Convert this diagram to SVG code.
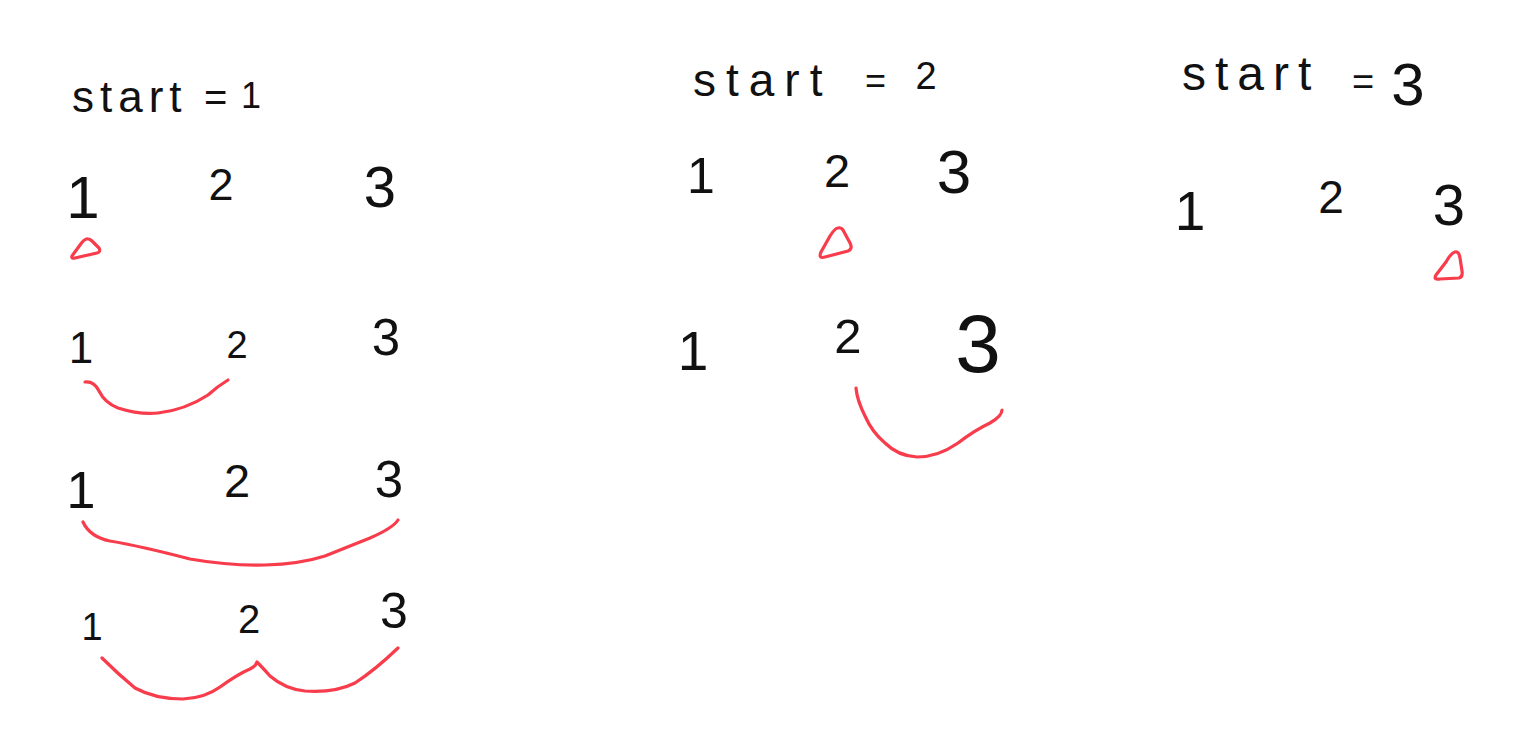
<svg xmlns="http://www.w3.org/2000/svg" width="1536" height="751" viewBox="0 0 1536 751">
<style>
  text { font-family: "Liberation Sans", "DejaVu Sans", sans-serif; fill: #111; }
  .d { text-anchor: middle; }
  .mark { fill: none; stroke: #f83c4c; stroke-width: 3.2; stroke-linecap: round; stroke-linejoin: round; }
</style>
<rect width="1536" height="751" fill="#ffffff"/>

<g id="panel-start-1">
  <text font-size="44"><tspan x="72" y="112" letter-spacing="6">start</tspan><tspan x="204" y="111" font-size="40">=</tspan><tspan x="241" y="108" font-size="36">1</tspan></text>
  <text class="d" x="83" y="218" font-size="60">1</text>
  <text class="d" x="221" y="200" font-size="45">2</text>
  <text class="d" x="380" y="207" font-size="58">3</text>
  <path class="mark" d="M88,239 Q85,238 80,245 L72,256 Q71,259 75,258 L97,253 Q101,252 99,248 L92,241 Q90,239 88,239 Z"/>

  <text class="d" x="81" y="363" font-size="44">1</text>
  <text class="d" x="237" y="358" font-size="38">2</text>
  <text class="d" x="386" y="355" font-size="51">3</text>
  <path class="mark" d="M85,382 Q94,381 99,391 Q105,403 118,408 Q140,415 158,413 Q185,410 208,395 Q218,386 228,380"/>

  <text class="d" x="81" y="508" font-size="52">1</text>
  <text class="d" x="237" y="497" font-size="47">2</text>
  <text class="d" x="389" y="497" font-size="51">3</text>
  <path class="mark" d="M83,522 Q90,537 110,541 Q140,546 190,559 Q230,566 265,565 Q300,564 325,556 Q350,546 370,538 Q393,528 398,520"/>

  <text class="d" x="92" y="640" font-size="38">1</text>
  <text class="d" x="249" y="633" font-size="40">2</text>
  <text class="d" x="394" y="628" font-size="50">3</text>
  <path class="mark" d="M102,658 Q118,674 135,688 Q155,699 183,699 Q205,698 220,687 Q238,674 250,669 Q256,666 257,662 Q262,667 270,676 Q285,689 305,691 Q335,693 355,683 Q375,670 398,648"/>
</g>

<g id="panel-start-2">
  <text font-size="46"><tspan x="693" y="96" letter-spacing="10">start</tspan><tspan x="865" y="93" font-size="36">=</tspan><tspan x="926" y="89" font-size="38" text-anchor="middle">2</tspan></text>
  <text class="d" x="701" y="193" font-size="50">1</text>
  <text class="d" x="837" y="187" font-size="47">2</text>
  <text class="d" x="954" y="193" font-size="62">3</text>
  <path class="mark" d="M838,228 Q835,228 830,236 L821,252 Q818,259 825,257 L848,251 Q853,249 850,243 L843,230 Q841,227 838,228 Z"/>

  <text class="d" x="693" y="370" font-size="55">1</text>
  <text class="d" x="848" y="353" font-size="49">2</text>
  <text class="d" x="978" y="372" font-size="82">3</text>
  <path class="mark" d="M856,388 Q857,400 865,416 Q872,432 885,443 Q898,456 917,457 Q938,457 958,443 Q975,430 990,423 Q1002,416 1002,410"/>
</g>

<g id="panel-start-3">
  <text font-size="48"><tspan x="1182" y="90" letter-spacing="9">start</tspan><tspan x="1352" y="95" font-size="38">=</tspan><tspan x="1408" y="105" font-size="60" text-anchor="middle">3</tspan></text>
  <text class="d" x="1190" y="230" font-size="55">1</text>
  <text class="d" x="1331" y="213" font-size="46">2</text>
  <text class="d" x="1449" y="225" font-size="58">3</text>
  <path class="mark" d="M1455,252 Q1451,253 1446,262 L1436,275 Q1433,280 1440,279 L1459,278 Q1463,277 1462,271 L1460,258 Q1459,251 1455,252 Z"/>
</g>
</svg>
